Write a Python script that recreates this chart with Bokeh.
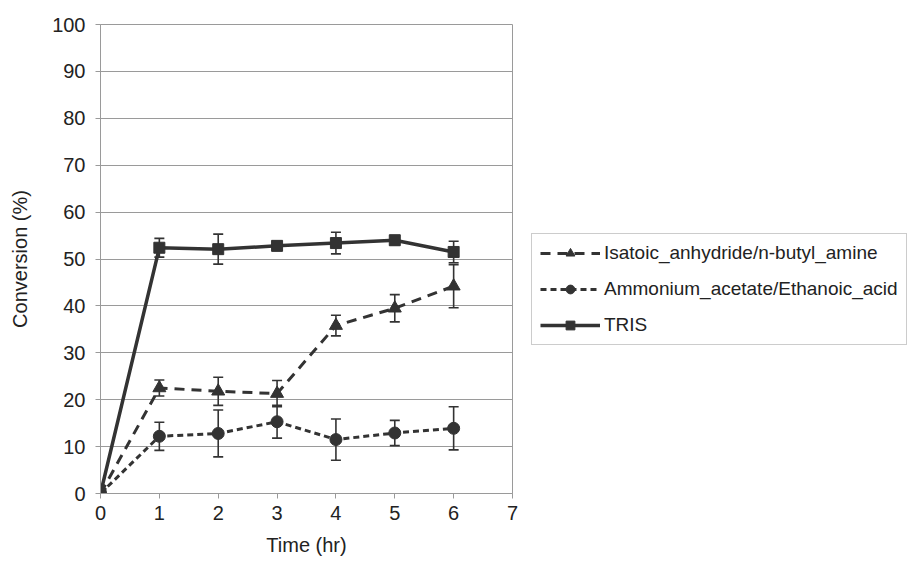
from bokeh.plotting import figure
from bokeh.models import (ColumnDataSource, Range1d, Legend, LegendItem, Whisker,
                          TeeHead, FixedTicker)
from bokeh.embed import file_html
from bokeh.resources import INLINE

# ---- data ----
time = [0, 1, 2, 3, 4, 5, 6]
isatoic = [0, 22.5, 21.8, 21.3, 35.8, 39.5, 44.2]
isatoic_err = [0, 1.7, 3.0, 2.8, 2.2, 2.9, 4.6]
ammonium = [0, 12.2, 12.8, 15.3, 11.5, 12.9, 13.9]
ammonium_err = [0, 3.0, 5.0, 3.5, 4.4, 2.7, 4.6]
tris = [0, 52.4, 52.1, 52.8, 53.4, 54.0, 51.5]
tris_err = [0, 2.0, 3.2, 1.0, 2.3, 1.0, 2.3]
series_names = ["Isatoic_anhydride/n-butyl_amine", "Ammonium_acetate/Ethanoic_acid", "TRIS"]
x_ticks = [0, 1, 2, 3, 4, 5, 6, 7]
y_ticks = [0, 10, 20, 30, 40, 50, 60, 70, 80, 90, 100]

FONT = "Liberation Sans"
DARK = "#333333"
TXT = "#222222"
GRID = "#9a9a9a"

p = figure(frame_width=412, frame_height=469, output_backend="svg", toolbar_location=None,
           x_range=Range1d(0, 7), y_range=Range1d(0, 100),
           min_border_left=100, min_border_right=0, min_border_top=24, min_border_bottom=71)
p.background_fill_color = "white"
p.border_fill_color = "white"
p.outline_line_color = GRID
p.outline_line_width = 1

# axes
p.xaxis.ticker = FixedTicker(ticks=x_ticks)
p.yaxis.ticker = FixedTicker(ticks=y_ticks)
for ax in (p.xaxis[0], p.yaxis[0]):
    ax.axis_line_color = GRID
    ax.major_tick_line_color = GRID
    ax.major_tick_in = 0
    ax.major_tick_out = 5
    ax.minor_tick_line_color = None
    ax.major_label_text_font = FONT
    ax.major_label_text_font_size = "20px"
    ax.major_label_text_color = TXT
    ax.axis_label_text_font = FONT
    ax.axis_label_text_font_size = "20px"
    ax.axis_label_text_font_style = "normal"
    ax.axis_label_text_color = TXT
p.xaxis.axis_label = "Time (hr)"
p.yaxis.axis_label = "Conversion (%)"
p.xaxis.major_label_standoff = 7
p.yaxis.major_label_standoff = 10
p.xaxis.axis_label_standoff = 11
p.yaxis.axis_label_standoff = 18

p.xgrid.grid_line_color = None
p.ygrid.grid_line_color = GRID
p.ygrid.grid_line_width = 1

styles = [
    (isatoic, isatoic_err, "10 7", "triangle", 13, 3),
    (ammonium, ammonium_err, "6 4", "circle", 12, 3),
    (tris, tris_err, "solid", "square", 11, 3.5),
]

items = []
for name, (vals, errs, dash, marker, size, lw) in zip(series_names, styles):
    src = ColumnDataSource(dict(x=time, y=vals))
    ln = p.line("x", "y", source=src, line_color=DARK, line_width=lw, line_dash=dash)
    wx = [t for t, e in zip(time, errs) if e > 0]
    up = [v + e for v, e in zip(vals, errs) if e > 0]
    lo = [v - e for v, e in zip(vals, errs) if e > 0]
    wsrc = ColumnDataSource(dict(x=wx, upper=up, lower=lo))
    w = Whisker(source=wsrc, base="x", upper="upper", lower="lower",
                line_color=DARK, line_width=1.6,
                upper_head=TeeHead(size=10, line_color=DARK, line_width=1.6),
                lower_head=TeeHead(size=10, line_color=DARK, line_width=1.6))
    p.add_layout(w)
    sc = p.scatter("x", "y", source=src, marker=marker, size=size,
                   fill_color=DARK, line_color=DARK)
    items.append(LegendItem(label=name, renderers=[ln, sc]))

legend = Legend(items=items, location=(19, 148), orientation="vertical")
legend.label_text_font = FONT
legend.label_text_font_size = "19px"
legend.label_text_color = TXT
legend.glyph_width = 60
legend.glyph_height = 22
legend.label_height = 22
legend.label_standoff = 4
legend.spacing = 14
legend.padding = 8
legend.margin = 0
legend.border_line_color = GRID
legend.border_line_width = 1
legend.background_fill_color = "white"
legend.background_fill_alpha = 1
p.add_layout(legend, "right")

open("out.html", "w").write(file_html(p, INLINE))
